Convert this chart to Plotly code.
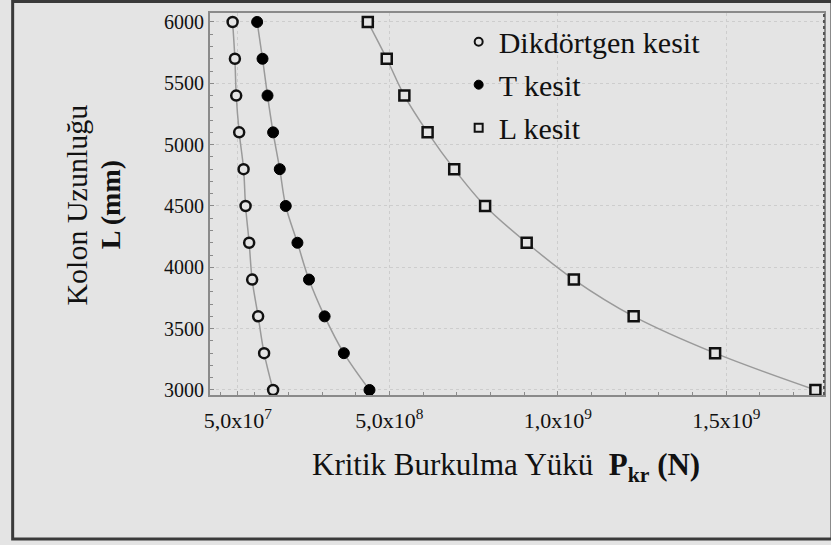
import plotly.graph_objects as go

# Column length L (mm)
lengths = [6000, 5700, 5400, 5100, 4800, 4500, 4200, 3900, 3600, 3300, 3000]
# Critical buckling load P_kr (N)
p_rect = [3.46e7, 4.14e7, 4.53e7, 5.41e7, 6.72e7, 7.31e7, 8.37e7, 9.26e7, 1.104e8, 1.281e8, 1.548e8]
p_t = [1.074e8, 1.234e8, 1.382e8, 1.548e8, 1.746e8, 1.923e8, 2.270e8, 2.613e8, 3.077e8, 3.648e8, 4.409e8]
p_l = [4.359e8, 4.921e8, 5.444e8, 6.134e8, 6.924e8, 7.841e8, 9.075e8, 1.0475e9, 1.225e9, 1.4668e9, 1.7645e9]

series_names = ["Dikdörtgen kesit", "T kesit", "L kesit"]
x_tickvals = [5e7, 5e8, 1e9, 1.5e9]
x_ticktext = ["5,0x10<sup>7</sup>", "5,0x10<sup>8</sup>", "1,0x10<sup>9</sup>", "1,5x10<sup>9</sup>"]
y_tickvals = [3000, 3500, 4000, 4500, 5000, 5500, 6000]

BG = "#e4e4e4"
FONT = "Liberation Serif, Times New Roman, serif"

fig = go.Figure()
styles = [
    dict(symbol="circle", size=10, color=BG, line=dict(color="#111", width=2.5)),
    dict(symbol="circle", size=11, color="#000", line=dict(color="#000", width=1)),
    dict(symbol="square", size=10, color=BG, line=dict(color="#111", width=2.5)),
]
legend_styles = [
    dict(symbol="circle", size=8, color=BG, line=dict(color="#111", width=2)),
    dict(symbol="circle", size=9, color="#000", line=dict(color="#000", width=1)),
    dict(symbol="square", size=8, color=BG, line=dict(color="#111", width=2)),
]
for i, (name, xs) in enumerate(zip(series_names, [p_rect, p_t, p_l])):
    fig.add_trace(go.Scatter(
        x=xs, y=lengths, name=name, mode="lines+markers",
        line=dict(color="#9a9a9a", width=1.5, shape="spline"),
        marker=styles[i], showlegend=False,
    ))
for i, name in enumerate(series_names):
    fig.add_trace(go.Scatter(
        x=[None], y=[None], name=name, mode="markers",
        marker=legend_styles[i], legendgroup=f"g{i}", showlegend=True,
    ))

fig.update_layout(
    width=831, height=545,
    margin=dict(l=210, r=5, t=13, b=150),
    paper_bgcolor=BG, plot_bgcolor=BG,
    font=dict(family=FONT, color="#111"),
    showlegend=True,
    legend=dict(
        x=0.405, y=0.993, xanchor="left", yanchor="top",
        bgcolor="rgba(0,0,0,0)", font=dict(size=30, family=FONT, color="#111"),
        traceorder="grouped", tracegroupgap=1,
    ),
    xaxis=dict(
        range=[-3.25e7, 1.79e9], tickmode="array", tickvals=x_tickvals, ticktext=x_ticktext,
        tickfont=dict(size=22, family=FONT, color="#111"), ticklabelstandoff=5,
        showgrid=True, gridcolor="#cdcdcd", griddash="dot", gridwidth=1,
        showline=True, linecolor="#8a8a8a", linewidth=2, mirror=True,
        ticks="inside", ticklen=4, tickcolor="#8a8a8a",
        minor=dict(tickmode="linear", tick0=0, dtick=1e8, ticks="inside", ticklen=3, tickcolor="#8a8a8a"),
        zeroline=False,
    ),
    yaxis=dict(
        range=[2959, 6073], tickmode="array", tickvals=y_tickvals,
        tickfont=dict(size=20, family=FONT, color="#111"),
        showgrid=True, gridcolor="#cdcdcd", griddash="dot", gridwidth=1,
        showline=True, linecolor="#8a8a8a", linewidth=2, mirror=True,
        ticks="inside", ticklen=4, tickcolor="#8a8a8a",
        minor=dict(tickmode="linear", tick0=0, dtick=100, ticks="inside", ticklen=3, tickcolor="#8a8a8a"),
        zeroline=False,
    ),
    annotations=[
        dict(text="Kolon Uzunluğu", xref="paper", yref="paper", x=-0.2175, y=0.497,
             xanchor="center", yanchor="middle",
             textangle=-90, showarrow=False, font=dict(size=30, family=FONT, color="#111")),
        dict(text="<b>L (mm)</b>", xref="paper", yref="paper", x=-0.1625, y=0.497,
             xanchor="center", yanchor="middle",
             textangle=-90, showarrow=False, font=dict(size=28, family=FONT, color="#111")),
        dict(text="Kritik Burkulma Yükü  <b>P<sub>kr</sub> (N)</b>", xref="paper", yref="paper",
             x=0.482, y=-0.188, xanchor="center", yanchor="middle",
             showarrow=False, font=dict(size=31, family=FONT, color="#111")),
    ],
    shapes=[
        dict(type="rect", xref="paper", yref="paper", x0=-0.3214, x1=1.013, y0=-0.377, y1=1.0301,
             line=dict(color="#3a3a3a", width=3), fillcolor="rgba(0,0,0,0)", layer="above"),
        dict(type="line", xref="paper", yref="paper", x0=1, x1=1, y0=0, y1=1,
             line=dict(color="#555", width=2, dash="dot"), layer="above"),
    ],
)

fig.write_html(
    "out.html",
    config={"displayModeBar": False},
    post_script="document.body.style.margin='0';document.body.style.overflow='hidden';",
)
